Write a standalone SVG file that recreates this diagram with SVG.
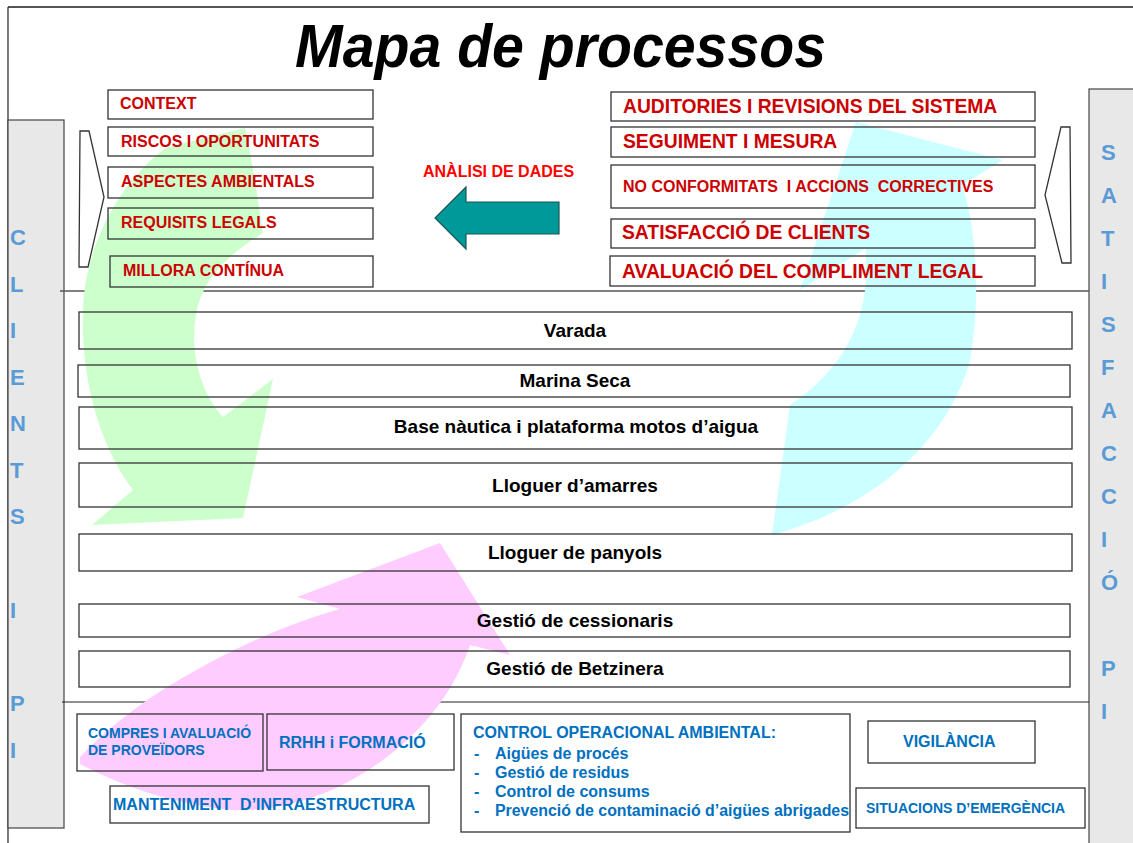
<svg xmlns="http://www.w3.org/2000/svg" width="1133" height="843" viewBox="0 0 1133 843">
<style>
text{font-family:"Liberation Sans",Arial,sans-serif;font-weight:bold}
.box{fill:none;stroke:#333;stroke-width:1.3}
.red{fill:#cc0000;font-size:16px}
.redL{fill:#cc0000;font-size:19.3px}
.proc{fill:#000;font-size:19px;text-anchor:middle}
.blue{fill:#0070c0}
.side{fill:#5b9bd5;font-size:22px}
.bar{fill:#e8e8e8;stroke:#444;stroke-width:1.2}
</style>
<rect width="1133" height="843" fill="#fff"/>
<g id="frame">
<line x1="8" y1="7" x2="1133" y2="7" stroke="#555" stroke-width="2"/>
<line x1="8" y1="7" x2="8" y2="843" stroke="#222" stroke-width="1.2"/>
<rect class="bar" x="8" y="120" width="56" height="708"/>
<rect class="bar" x="1089" y="89" width="50" height="760"/>
<line x1="60" y1="291" x2="1089" y2="291" stroke="#555" stroke-width="1.5"/>
<line x1="62" y1="702" x2="1089" y2="702" stroke="#222" stroke-width="1.2"/>
</g>
<g id="title"><text x="295" y="67" font-size="62" font-style="italic" textLength="531" lengthAdjust="spacingAndGlyphs">Mapa de processos</text></g>
<g id="curved-arrows">
<path id="green-arrow" fill="#ccffcc" d="M165,148 C125,180 97,225 86,280 C76,340 88,430 133,490 L92,525 L243,518 L273,379 L223,417 C198,390 188,345 198,305 C210,265 245,245 263,233 C258,200 252,160 245,128 Z"/>
<path id="cyan-arrow" fill="#ccffff" d="M772,535 L790,405 C835,375 862,335 866,280 L866,248 L800,290 L856,122 L1003,160 L962,185 C976,225 982,300 969,365 C945,440 880,505 772,535 Z"/>
<path id="pink-arrow" fill="#ffccff" d="M80,757 C110,725 150,695 200,668 C250,640 300,620 340,609 L297,597 L440,543 L510,655 L470,645 C455,690 420,740 360,775 C320,800 270,812 233,810 C180,805 130,790 80,764 Z"/>
</g>
<g id="chevrons">
<polygon points="80,131 89,131 104,197 88,267 79,267" fill="#fff" stroke="#333" stroke-width="1.3"/>
<polygon points="1061,127 1070,127 1071,263 1062,263 1045,195" fill="#fff" stroke="#333" stroke-width="1.3"/>
</g>
<g id="context"><rect class="box" x="108" y="90" width="265" height="29"/><text class="red" x="120" y="109">CONTEXT</text></g>
<g id="riscos"><rect class="box" x="108" y="127" width="265" height="29"/><text class="red" x="121" y="147">RISCOS I OPORTUNITATS</text></g>
<g id="aspectes"><rect class="box" x="108" y="167" width="265" height="31"/><text class="red" x="121" y="187">ASPECTES AMBIENTALS</text></g>
<g id="requisits"><rect class="box" x="108" y="208" width="265" height="31"/><text class="red" x="121" y="228">REQUISITS LEGALS</text></g>
<g id="millora"><rect class="box" x="110" y="256" width="263" height="31"/><text class="red" x="123" y="276">MILLORA CONTÍNUA</text></g>
<g id="auditories"><rect class="box" x="611" y="92" width="424" height="29"/><text class="redL" x="623" y="113">AUDITORIES I REVISIONS DEL SISTEMA</text></g>
<g id="seguiment"><rect class="box" x="611" y="127" width="424" height="30"/><text class="redL" x="623" y="148">SEGUIMENT I MESURA</text></g>
<g id="noconf"><rect class="box" x="611" y="165" width="424" height="43"/><text class="red" x="623" y="192" xml:space="preserve">NO CONFORMITATS  I ACCIONS  CORRECTIVES</text></g>
<g id="satisfaccio"><rect class="box" x="611" y="219" width="424" height="29"/><text class="redL" x="622" y="239">SATISFACCIÓ DE CLIENTS</text></g>
<g id="avaluacio"><rect class="box" x="610" y="256" width="425" height="30"/><text class="redL" x="622" y="278">AVALUACIÓ DEL COMPLIMENT LEGAL</text></g>
<g id="analisi">
<text x="423" y="177" font-size="16" fill="#ff0000">ANÀLISI DE DADES</text>
<polygon points="435,218 466,187 466,202 559,202 559,234 466,234 466,249" fill="#009999" stroke="#1f5555" stroke-width="1.2"/>
</g>
<g id="varada"><rect class="box" x="79" y="312" width="993" height="37"/><text class="proc" x="575" y="337">Varada</text></g>
<g id="marina"><rect class="box" x="78" y="365" width="992" height="32"/><text class="proc" x="575" y="387">Marina Seca</text></g>
<g id="base"><rect class="box" x="79" y="407" width="993" height="42"/><text class="proc" x="576" y="433">Base nàutica i plataforma motos d’aigua</text></g>
<g id="amarres"><rect class="box" x="79" y="463" width="993" height="44"/><text class="proc" x="575" y="492">Lloguer d’amarres</text></g>
<g id="panyols"><rect class="box" x="79" y="534" width="993" height="37"/><text class="proc" x="575" y="559">Lloguer de panyols</text></g>
<g id="cessionaris"><rect class="box" x="79" y="604" width="991" height="33"/><text class="proc" x="575" y="627">Gestió de cessionaris</text></g>
<g id="betzinera"><rect class="box" x="79" y="651" width="991" height="36"/><text class="proc" x="575" y="675">Gestió de Betzinera</text></g>
<g id="compres"><rect class="box" x="77" y="714" width="186" height="57"/><text class="blue" font-size="14" x="88" y="738">COMPRES I AVALUACIÓ</text><text class="blue" font-size="14" x="88" y="755">DE PROVEÏDORS</text></g>
<g id="rrhh"><rect class="box" x="267" y="714" width="187" height="56"/><text class="blue" font-size="16" x="279" y="748">RRHH i FORMACIÓ</text></g>
<g id="manteniment"><rect class="box" x="110" y="786" width="319" height="37"/><text class="blue" font-size="16" x="113" y="810" xml:space="preserve">MANTENIMENT  D’INFRAESTRUCTURA</text></g>
<g id="control"><rect class="box" x="461" y="714" width="389" height="118"/>
<text class="blue" font-size="16" x="473" y="738" textLength="303" lengthAdjust="spacingAndGlyphs">CONTROL OPERACIONAL AMBIENTAL:</text>
<text class="blue" font-size="16" x="474" y="759">-</text><text class="blue" font-size="16" x="495" y="759">Aigües de procés</text>
<text class="blue" font-size="16" x="474" y="778">-</text><text class="blue" font-size="16" x="495" y="778">Gestió de residus</text>
<text class="blue" font-size="16" x="474" y="797">-</text><text class="blue" font-size="16" x="495" y="797">Control de consums</text>
<text class="blue" font-size="16" x="474" y="816">-</text><text class="blue" font-size="16" x="495" y="816" textLength="354" lengthAdjust="spacingAndGlyphs">Prevenció de contaminació d’aigües abrigades</text>
</g>
<g id="vigilancia"><rect class="box" x="868" y="721" width="167" height="42"/><text class="blue" font-size="16" x="903" y="747">VIGILÀNCIA</text></g>
<g id="emergencia"><rect class="box" x="856" y="788" width="229" height="40"/><text class="blue" font-size="14" x="866" y="813">SITUACIONS D’EMERGÈNCIA</text></g>
<g id="clients">
<text class="side" x="10" y="245">C</text><text class="side" x="10" y="292">L</text><text class="side" x="10" y="338">I</text><text class="side" x="10" y="385">E</text><text class="side" x="10" y="431">N</text><text class="side" x="10" y="478">T</text><text class="side" x="10" y="524">S</text><text class="side" x="10" y="618">I</text><text class="side" x="10" y="711">P</text><text class="side" x="10" y="758">I</text>
</g>
<g id="satisfaccio-pi">
<text class="side" x="1101" y="160">S</text><text class="side" x="1101" y="203">A</text><text class="side" x="1101" y="246">T</text><text class="side" x="1101" y="289">I</text><text class="side" x="1101" y="332">S</text><text class="side" x="1101" y="375">F</text><text class="side" x="1101" y="418">A</text><text class="side" x="1101" y="461">C</text><text class="side" x="1101" y="504">C</text><text class="side" x="1101" y="547">I</text><text class="side" x="1101" y="590">Ó</text><text class="side" x="1101" y="676">P</text><text class="side" x="1101" y="719">I</text>
</g>
</svg>
